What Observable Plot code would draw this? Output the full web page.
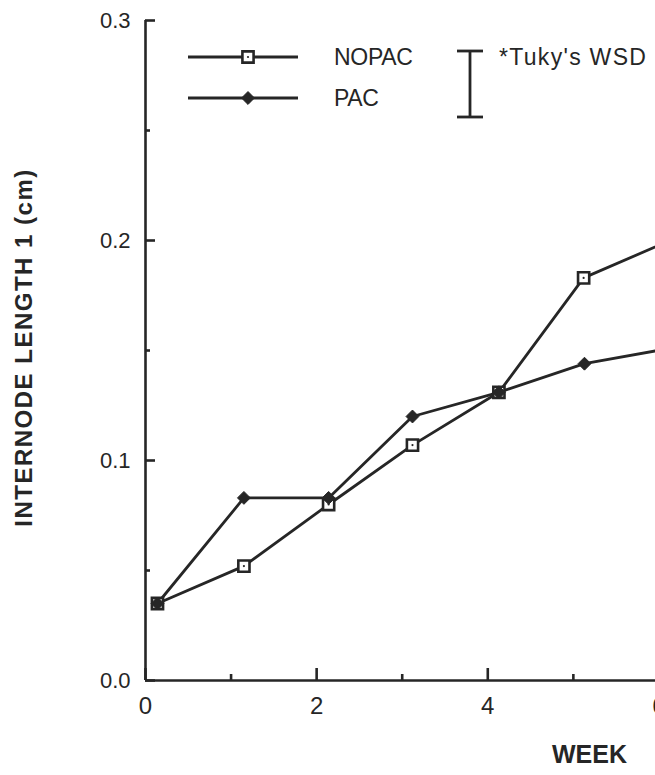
<!DOCTYPE html>
<html>
<head>
<meta charset="utf-8">
<script src="https://cdn.jsdelivr.net/npm/d3@7"></script>
<script src="https://cdn.jsdelivr.net/npm/@observablehq/plot@0.6"></script>
<style>
html, body { margin: 0; padding: 0; background: #fff; overflow: hidden; width: 655px; height: 775px; }
#wrap { position: relative; width: 655px; height: 775px; overflow: hidden; }
#wrap > svg { max-width: none !important; }
#legend { position: absolute; left: 0; top: 0; }
</style>
</head>
<body>
<div id="wrap"></div>
<script>
// ---- data ----
const weeksNOPAC = [0.14, 1.15, 2.14, 3.12, 4.13, 5.12, 6.13];
const nopac      = [0.035, 0.052, 0.080, 0.107, 0.131, 0.183, 0.200];
const weeksPAC   = [0.14, 1.15, 2.14, 3.12, 4.13, 5.13, 6.13];
const pac        = [0.035, 0.083, 0.083, 0.120, 0.131, 0.144, 0.151];
const xTickLabels = [0, 2, 4, 6, 8];
const xMinorTicks = [1, 3, 5, 7];
const yTickLabels = [0.0, 0.1, 0.2, 0.3];
const yMinorTicks = [0.05, 0.15, 0.25];
const seriesNames = ["NOPAC", "PAC"];
const wsdLabel = "*Tuky's WSD";
const wsd = 0.03;
const xLabel = "WEEK";
const yLabel = "INTERNODE LENGTH 1 (cm)";

const ink = "#262626";
const font = "'Liberation Sans', Arial, Helvetica, sans-serif";

const rows = (w, v, s) => w.map((x, i) => ({week: x, value: v[i], series: s}));
const dataN = rows(weeksNOPAC, nopac, seriesNames[0]);
const dataP = rows(weeksPAC, pac, seriesNames[1]);

const chart = Plot.plot({
  width: 744,
  height: 775,
  marginLeft: 145,
  marginRight: 0,
  marginTop: 20,
  marginBottom: 95,
  x: {domain: [0, 7]},
  y: {domain: [0, 0.3]},
  style: {fontFamily: font, color: ink, background: "white", overflow: "visible", maxWidth: "none"},
  marks: [
    Plot.ruleX([0], {stroke: ink, strokeWidth: 2.6}),
    Plot.ruleY([0], {stroke: ink, strokeWidth: 2.6}),
    Plot.axisY(yTickLabels, {tickSize: -10, strokeWidth: 2.6, tickFormat: () => "", label: null}),
    Plot.axisY(yMinorTicks, {tickSize: -5, strokeWidth: 2.6, tickFormat: () => "", label: null}),
    Plot.axisY(yTickLabels, {tickSize: 0, tickPadding: 15, tickFormat: d3.format(".1f"), fontSize: 22, label: null}),
    Plot.axisX(xTickLabels, {tickSize: -12, strokeWidth: 2.6, tickFormat: () => "", label: null}),
    Plot.axisX(xMinorTicks, {tickSize: -6, strokeWidth: 2.6, tickFormat: () => "", label: null}),
    Plot.axisX(xTickLabels, {tickSize: 0, tickPadding: 16, tickFormat: d3.format("d"), fontSize: 24, label: null}),
    Plot.line(dataN, {x: "week", y: "value", stroke: ink, strokeWidth: 2.8}),
    Plot.line(dataP, {x: "week", y: "value", stroke: ink, strokeWidth: 2.8}),
    Plot.dot(dataN, {x: "week", y: "value", symbol: "square", r: 6.3, fill: "white", stroke: ink, strokeWidth: 2.6}),
    Plot.dot(dataN, {x: "week", y: "value", r: 1.1, fill: ink}),
    Plot.dot(dataP, {x: "week", y: "value", symbol: "diamond2", r: 5.8, fill: ink, stroke: ink, strokeWidth: 1}),
    Plot.text([xLabel], {frameAnchor: "bottom-left", dx: 444, dy: 82, fontSize: 25, fontWeight: "bold", textAnchor: "middle", fill: ink}),
    Plot.text([yLabel], {frameAnchor: "left", rotate: -90, dx: -121, dy: -3, fontSize: 24, fontWeight: "bold", textAnchor: "middle", fill: ink})
  ]
});

for (const t of chart.querySelectorAll("text")) {
  if (t.textContent === yLabel) t.setAttribute("letter-spacing", "1.5");
}
chart.style.maxWidth = "none";

const wrap = document.getElementById("wrap");
wrap.appendChild(chart);

// ---- legend overlay ----
const ys = chart.scale("y");
const barLen = ys.apply(0) - ys.apply(wsd);
const svg = d3.create("svg").attr("id", "legend").attr("width", 655).attr("height", 150)
  .style("font-family", font);
const rowsY = [57, 98];
const symbols = [d3.symbol(d3.symbolSquare, Math.PI * 6.3 * 6.3), d3.symbol(d3.symbolDiamond2, Math.PI * 5.8 * 5.8)];
seriesNames.forEach((name, i) => {
  const y = rowsY[i];
  svg.append("line").attr("x1", 188).attr("x2", 298).attr("y1", y).attr("y2", y)
    .attr("stroke", ink).attr("stroke-width", 2.8);
  const p = svg.append("path").attr("d", symbols[i]()).attr("transform", `translate(248,${y})`);
  if (i === 0) {
    p.attr("fill", "white").attr("stroke", ink).attr("stroke-width", 2.6);
    svg.append("circle").attr("cx", 248).attr("cy", y).attr("r", 1.1).attr("fill", ink);
  } else {
    p.attr("fill", ink).attr("stroke", ink).attr("stroke-width", 1);
  }
  svg.append("text").attr("x", 334).attr("y", y).attr("dy", "0.35em")
    .attr("font-size", 23).attr("fill", ink).attr("letter-spacing", "-0.3").text(name);
});
const bx = 470, by = 51;
svg.append("line").attr("x1", bx).attr("x2", bx).attr("y1", by).attr("y2", by + barLen).attr("stroke", ink).attr("stroke-width", 2.8);
svg.append("line").attr("x1", bx - 13).attr("x2", bx + 13).attr("y1", by).attr("y2", by).attr("stroke", ink).attr("stroke-width", 2.8);
svg.append("line").attr("x1", bx - 13).attr("x2", bx + 13).attr("y1", by + barLen).attr("y2", by + barLen).attr("stroke", ink).attr("stroke-width", 2.8);
svg.append("text").attr("x", 499).attr("y", 57).attr("dy", "0.35em")
  .attr("font-size", 23).attr("fill", ink).attr("letter-spacing", "1.3").text(wsdLabel);
wrap.appendChild(svg.node());
</script>
</body>
</html>
